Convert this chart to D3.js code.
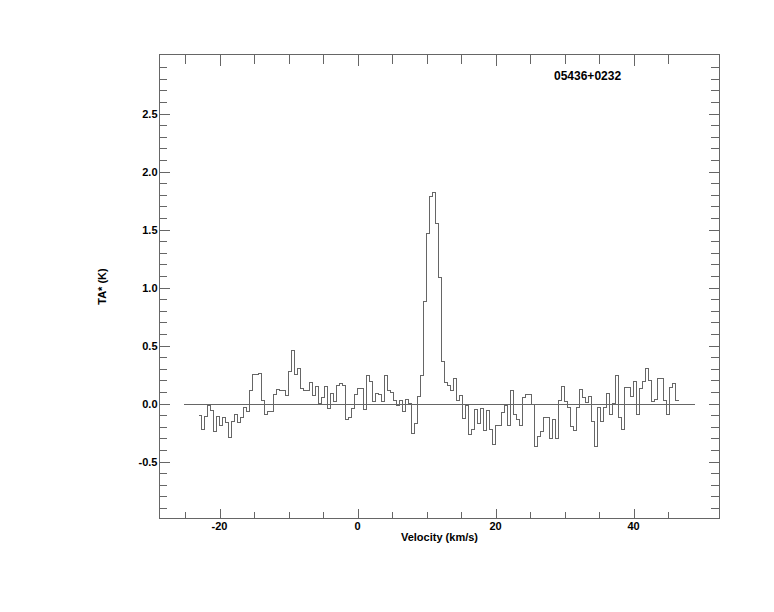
<!DOCTYPE html>
<html>
<head>
<meta charset="utf-8">
<script src="https://cdn.jsdelivr.net/npm/d3@7"></script>
<style>
  html, body { margin: 0; padding: 0; background: #fff; }
  svg { display: block; }
  text { font-family: "Liberation Sans", Arial, Helvetica, sans-serif; font-weight: bold; fill: #000; }
</style>
</head>
<body>
<svg id="chart" width="774" height="612"></svg>
<script>
// ---- data ----
const sourceName = "05436+0232";
const xLabel = "Velocity (km/s)";
const yLabel = "TA* (K)";
const channelStart = -23.04;      // km/s, left edge of first channel
const channelWidth = 0.4348;      // km/s
const antennaTemp = [
  -0.10,-0.22,-0.11,-0.02,-0.06,-0.24,-0.11,-0.19,-0.12,-0.16,
  -0.29,-0.15,-0.09,-0.16,-0.12,-0.03,-0.07, 0.11, 0.25, 0.25,
   0.26, 0.03,-0.09,-0.07,-0.07, 0.08, 0.12, 0.11, 0.11, 0.07,
   0.28, 0.46, 0.25, 0.30, 0.13, 0.11, 0.11, 0.18, 0.07, 0.15,
   0.00, 0.05, 0.15,-0.04, 0.09, 0.02, 0.16, 0.17, 0.16,-0.14,
  -0.12,-0.04, 0.08, 0.13, 0.13,-0.05, 0.24, 0.19, 0.02, 0.09,
   0.08, 0.02, 0.24, 0.11, 0.10, 0.03,-0.02, 0.03,-0.07, 0.04,
   0.00,-0.26,-0.17, 0.06, 0.24, 0.88, 1.47, 1.79, 1.82, 1.55,
   1.09, 0.36, 0.18, 0.16, 0.11, 0.22, 0.03, 0.07,-0.13,-0.02,
  -0.27,-0.22,-0.05,-0.17,-0.04,-0.23,-0.06,-0.22,-0.35,-0.19,
  -0.19,-0.08,-0.02,-0.19, 0.11,-0.09,-0.14,-0.19, 0.05, 0.08,
   0.08,-0.01,-0.37,-0.28,-0.24,-0.12,-0.12,-0.30,-0.14,-0.30,
   0.03, 0.15, 0.02,-0.03,-0.20,-0.23,-0.03, 0.12, 0.05, 0.01,
   0.06,-0.15,-0.37,-0.03,-0.15,-0.03, 0.09,-0.09, 0.00, 0.24,
  -0.12,-0.22, 0.14, 0.14, 0.06, 0.19,-0.09, 0.13, 0.19, 0.30,
   0.20, 0.02, 0.04, 0.22, 0.22, 0.03,-0.09, 0.14, 0.17, 0.03
];
const baselineRange = [-25.2, 48.85];
const xMajorTicks = [-20, 0, 20, 40];
const xMinorTicks = [-25, -15, -10, -5, 5, 10, 15, 25, 30, 35, 45];
const yMajorTicks = [-0.5, 0.0, 0.5, 1.0, 1.5, 2.0, 2.5];
const yMinorTicks = [-0.9,-0.8,-0.7,-0.6,-0.4,-0.3,-0.2,-0.1,0.1,0.2,0.3,0.4,0.6,0.7,0.8,0.9,
  1.1,1.2,1.3,1.4,1.6,1.7,1.8,1.9,2.1,2.2,2.3,2.4,2.6,2.7,2.8,2.9];

// ---- layout ----
const L = 159.5, R = 719.5, T = 54.5, B = 518.5;
const lineColor = "#666";

const x = d3.scaleLinear().domain([-28.7, 52.46]).range([L, R]);
const y = d3.scaleLinear().domain([-0.99, 3.01]).range([B, T]);

const svg = d3.select("#chart");

// frame
svg.append("rect")
  .attr("x", L).attr("y", T).attr("width", R - L).attr("height", B - T)
  .attr("fill", "none").attr("stroke", lineColor).attr("stroke-width", 1)
  .attr("shape-rendering", "crispEdges");

const g = svg.append("g").attr("shape-rendering", "crispEdges")
  .attr("stroke", lineColor).attr("stroke-width", 1);

// bottom / top ticks
function xTick(v, lenB, lenT) {
  const px = Math.round(x(v)) + 0.5;
  g.append("line").attr("x1", px).attr("x2", px).attr("y1", B).attr("y2", B - lenB);
  g.append("line").attr("x1", px).attr("x2", px).attr("y1", T).attr("y2", T + lenT);
}
xMajorTicks.forEach(v => xTick(v, 10, 11));
xMinorTicks.forEach(v => xTick(v, 7, 9));

function yTick(v, lenL, lenR) {
  const py = Math.round(y(v)) + 0.5;
  g.append("line").attr("x1", L).attr("x2", L + lenL).attr("y1", py).attr("y2", py);
  g.append("line").attr("x1", R).attr("x2", R - lenR).attr("y1", py).attr("y2", py);
}
yMajorTicks.forEach(v => yTick(v, 10, 11));
yMinorTicks.forEach(v => yTick(v, 7, 9));

// tick labels
svg.append("g").selectAll("text").data(xMajorTicks).join("text")
  .attr("x", d => x(d)).attr("y", 529.5)
  .attr("text-anchor", "middle").attr("font-size", 11)
  .text(d => String(d));

svg.append("g").selectAll("text").data(yMajorTicks).join("text")
  .attr("x", 157.5).attr("y", d => y(d) + 4)
  .attr("text-anchor", "end").attr("font-size", 11)
  .text(d => d.toFixed(1));

// axis titles
svg.append("text").attr("x", (L + R) / 2).attr("y", 541)
  .attr("text-anchor", "middle").attr("font-size", 11).text(xLabel);
svg.append("text").attr("transform", `translate(105.5,${(T + B) / 2}) rotate(-90)`)
  .attr("text-anchor", "middle").attr("font-size", 11).text(yLabel);

// source name
svg.append("text").attr("x", 554).attr("y", 80)
  .attr("font-size", 12).attr("text-anchor", "start").text(sourceName);

// zero baseline
svg.append("line")
  .attr("x1", x(baselineRange[0])).attr("x2", x(baselineRange[1]))
  .attr("y1", Math.round(y(0)) + 0.5).attr("y2", Math.round(y(0)) + 0.5)
  .attr("stroke", lineColor).attr("stroke-width", 1).attr("shape-rendering", "crispEdges");

// spectrum histogram
const pts = antennaTemp.map((v, i) => [channelStart + i * channelWidth, v]);
pts.push([channelStart + antennaTemp.length * channelWidth, antennaTemp[antennaTemp.length - 1]]);
const line = d3.line().x(d => x(d[0])).y(d => y(d[1])).curve(d3.curveStepAfter);
svg.append("path").datum(pts)
  .attr("d", line).attr("fill", "none")
  .attr("stroke", lineColor).attr("stroke-width", 1)
  .attr("shape-rendering", "crispEdges");
</script>
</body>
</html>
